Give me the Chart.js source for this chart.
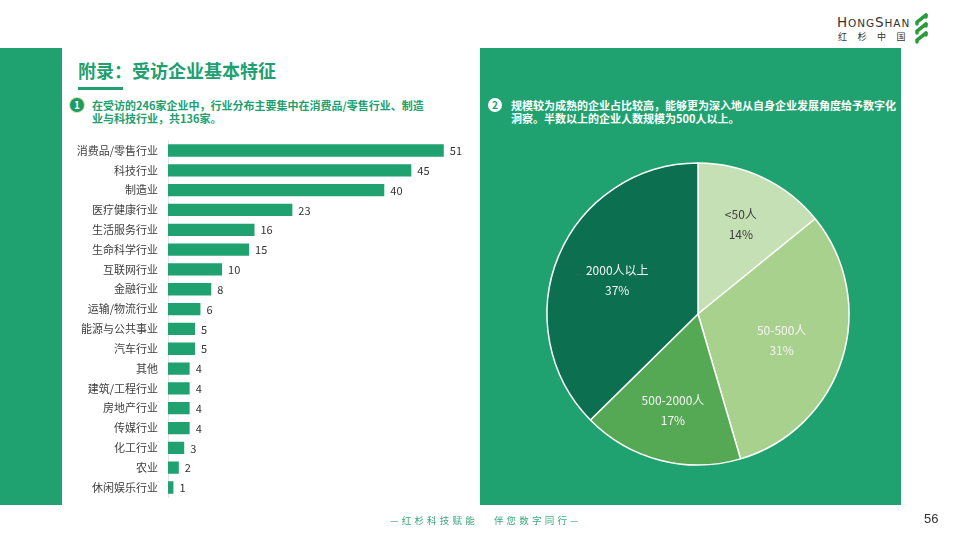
<!DOCTYPE html>
<html><head><meta charset="utf-8">
<script src="https://cdn.jsdelivr.net/npm/chart.js@4.4.0/dist/chart.umd.min.js"></script>
<style>
body{margin:0;width:960px;height:540px;position:relative;background:#fff;font-family:"Noto Sans CJK SC","Noto Sans",sans-serif;overflow:hidden}
.abs{position:absolute}
.txt{font-size:11px;font-weight:bold;line-height:13px;white-space:nowrap}
canvas{display:block}
</style></head><body>
<div class="abs" style="left:0;top:48px;width:62px;height:457px;background:#1fa270"></div>
<div class="abs" style="left:480px;top:48px;width:421px;height:457px;background:#1fa270"></div>

<div class="abs" style="left:78px;top:57px;font-size:18px;font-weight:bold;color:#21a06f;line-height:26px;white-space:nowrap">附录：受访企业基本特征</div>
<div class="abs" style="left:78px;top:87px;width:45px;height:3px;background:#21a06f"></div>

<div class="abs" style="left:70px;top:98px;width:14px;height:14px;border-radius:50%;background:#1f9a60;box-shadow:0 0 0 1px #cfe3a8;color:#fff;font-size:10px;font-weight:bold;line-height:14px;text-align:center">1</div>
<div class="abs txt" style="left:92px;top:99px;color:#21a06f">在受访的246家企业中，行业分布主要集中在消费品/零售行业、制造<br>业与科技行业，共136家。</div>

<div class="abs" style="left:488px;top:98px;width:14px;height:14px;border-radius:50%;background:#fff;color:#1fa270;font-size:10px;font-weight:bold;line-height:14px;text-align:center">2</div>
<div class="abs txt" style="left:511px;top:99px;color:#fff">规模较为成熟的企业占比较高，能够更为深入地从自身企业发展角度给予数字化<br>洞察。半数以上的企业人数规模为500人以上。</div>

<div class="abs" style="left:837px;top:14px;color:#333;font-family:'DejaVu Sans',sans-serif;font-size:13.5px;line-height:16px;letter-spacing:0.9px;white-space:nowrap">H<span style="font-size:10.5px">ONG</span>S<span style="font-size:10.5px">HAN</span></div>
<div class="abs" style="left:838px;top:31px;color:#333;font-size:9px;line-height:12px;letter-spacing:10.5px;white-space:nowrap">红杉中国</div>
<svg class="abs" style="left:912px;top:12px" width="18" height="34" viewBox="0 0 18 34">
<g stroke="#2a9d3a" stroke-width="3.5" stroke-linecap="round" fill="none">
<path d="M14 3 L5 10 L5 12"/>
<path d="M14 12 L5 19 L5 21"/>
<path d="M14 21 L5 28 L5 30"/>
<path d="M14 3 L14 5"/><path d="M14 12 L14 14"/><path d="M14 21 L14 23"/>
</g></svg>

<div class="abs" style="left:62px;top:124px;width:418px;height:390px"><canvas id="bar" width="418" height="390"></canvas></div>
<div class="abs" style="left:538px;top:154px;width:320px;height:320px"><canvas id="pie" width="320" height="320"></canvas></div>

<div class="abs" style="left:390px;top:513px;font-size:9.5px;color:#3aa77a;letter-spacing:3.2px;line-height:14px;white-space:nowrap">—红杉科技赋能&nbsp;&nbsp;&nbsp;伴您数字同行—</div>
<div class="abs" style="left:924px;top:511px;font-size:13px;color:#333;line-height:16px;font-family:'Liberation Sans',sans-serif">56</div>

<script>
const industries = ['消费品/零售行业','科技行业','制造业','医疗健康行业','生活服务行业','生命科学行业','互联网行业','金融行业','运输/物流行业','能源与公共事业','汽车行业','其他','建筑/工程行业','房地产行业','传媒行业','化工行业','农业','休闲娱乐行业'];
const companyCounts = [51,45,40,23,16,15,10,8,6,5,5,4,4,4,4,3,2,1];
const sizeLabels = ['<50人','50-500人','500-2000人','2000人以上'];
const sizeShares = [14,31,17,37];

const FONT = '"Noto Sans CJK SC", "Noto Sans", sans-serif';

const barValueLabels = {
  id:'barValueLabels',
  afterDatasetsDraw(chart){
    const ctx = chart.ctx;
    const meta = chart.getDatasetMeta(0);
    ctx.save();
    ctx.font = '11px ' + FONT;
    ctx.fillStyle = '#333';
    ctx.textAlign = 'left';
    ctx.textBaseline = 'middle';
    meta.data.forEach((el,i)=>{
      ctx.fillText(String(chart.data.datasets[0].data[i]), el.x + 6, el.y + 0.5);
    });
    ctx.restore();
  }
};

new Chart(document.getElementById('bar'), {
  type:'bar',
  data:{labels:industries, datasets:[{data:companyCounts, backgroundColor:'#1fa270', borderWidth:0, barPercentage:0.62, categoryPercentage:1}]},
  options:{
    indexAxis:'y', responsive:false, animation:false,
    layout:{padding:0},
    plugins:{legend:{display:false}, tooltip:{enabled:false}},
    scales:{
      x:{display:false, min:0, max:57.7},
      y:{
        afterFit(s){ s.width = 106; },
        grid:{display:false, drawTicks:false},
        border:{display:true, color:'#e3e3e3', width:1},
        ticks:{color:'#404040', padding:10, font:{size:11, family:FONT}}
      }
    }
  },
  plugins:[barValueLabels]
});

const pieFractions = [0.66, 0.58, 0.66, 0.58];
const pieTextColors = ['#404040','#f4f4f4','#f4f4f4','#f4f4f4'];
const pieLabels = {
  id:'pieLabels',
  afterDatasetsDraw(chart){
    const ctx = chart.ctx;
    const meta = chart.getDatasetMeta(0);
    ctx.save();
    ctx.font = '12px ' + FONT;
    ctx.textAlign = 'center';
    ctx.textBaseline = 'middle';
    meta.data.forEach((arc,i)=>{
      const mid = (arc.startAngle + arc.endAngle)/2;
      const r = arc.outerRadius * pieFractions[i];
      const x = arc.x + Math.cos(mid)*r;
      const y = arc.y + Math.sin(mid)*r;
      ctx.fillStyle = pieTextColors[i];
      ctx.fillText(sizeLabels[i], x, y - 10);
      ctx.fillText(sizeShares[i] + '%', x, y + 10);
    });
    ctx.restore();
  }
};

new Chart(document.getElementById('pie'), {
  type:'pie',
  data:{labels:sizeLabels, datasets:[{data:sizeShares, backgroundColor:['#c5e0b4','#a9d18e','#55a854','#0c7050'], borderColor:'#ffffff', borderWidth:1.5, hoverOffset:0}]},
  options:{
    responsive:false, animation:false, radius:151,
    plugins:{legend:{display:false}, tooltip:{enabled:false}}
  },
  plugins:[pieLabels]
});
</script>
</body></html>
